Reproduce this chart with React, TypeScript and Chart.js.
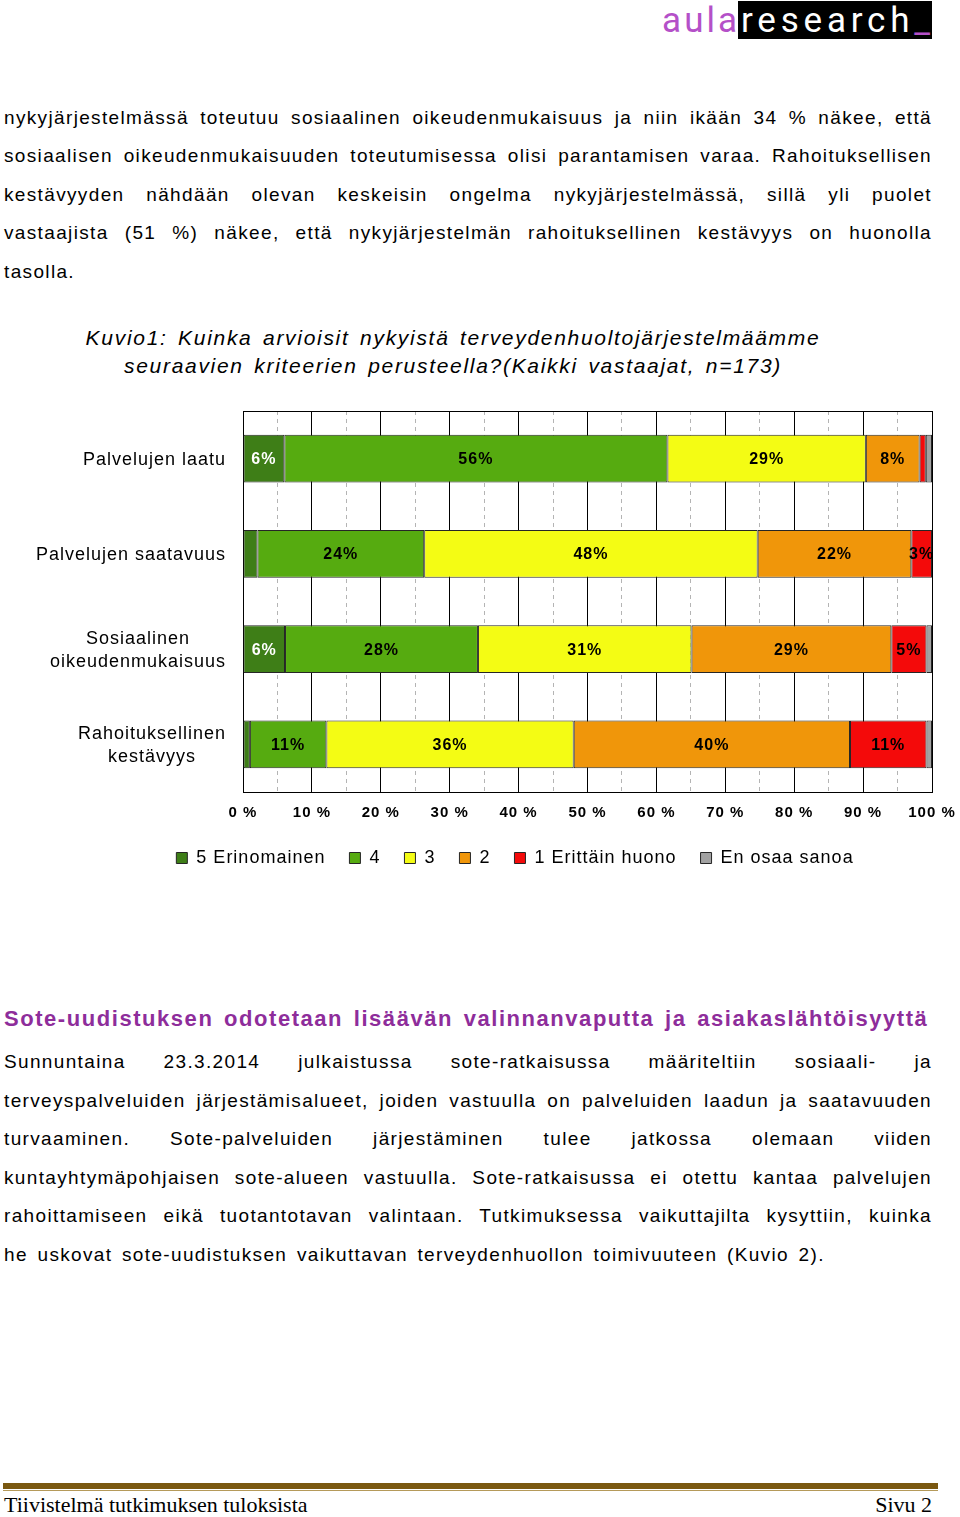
import React, { useEffect, useRef } from 'react';
import { Chart, registerables } from 'chart.js';

Chart.register(...registerables);

const FONT = '"Liberation Sans", Arial, Helvetica, sans-serif';

// ---- chart data ----
const categories: string[][] = [
  ['Palvelujen laatu'],
  ['Palvelujen saatavuus'],
  ['Sosiaalinen', 'oikeudenmukaisuus'],
  ['Rahoituksellinen', 'kestävyys'],
];
const seriesNames = ['5 Erinomainen', '4', '3', '2', '1 Erittäin huono', 'En osaa sanoa'];
const erinomainen = [6.0, 2.1, 6.1, 1.0];
const hyva = [55.6, 24.2, 28.0, 11.1];
const keskinkertainen = [28.8, 48.4, 31.0, 35.9];
const heikko = [7.8, 22.3, 29.0, 40.1];
const erittainHuono = [0.9, 3.0, 5.1, 11.1];
const eiOsaa = [0.9, 0, 0.8, 0.8];
const seriesColors = ['#3e7e17', '#56ab10', '#f4fc14', '#f0960a', '#f40a0a', '#a2a2a2'];
const minorTicks = [5, 15, 25, 35, 45, 55, 65, 75, 85, 95];
const labelThreshold = 2.5;
const legendCenterX = 515;

// ---- page text ----
const para1 = [
  'nykyjärjestelmässä toteutuu sosiaalinen oikeudenmukaisuus ja niin ikään 34 % näkee, että',
  'sosiaalisen oikeudenmukaisuuden toteutumisessa olisi parantamisen varaa. Rahoituksellisen',
  'kestävyyden nähdään olevan keskeisin ongelma nykyjärjestelmässä, sillä yli puolet',
  'vastaajista (51 %) näkee, että nykyjärjestelmän rahoituksellinen kestävyys on huonolla',
  'tasolla.',
];
const para2 = [
  'Sunnuntaina 23.3.2014 julkaistussa sote-ratkaisussa määriteltiin sosiaali- ja',
  'terveyspalveluiden järjestämisalueet, joiden vastuulla on palveluiden laadun ja saatavuuden',
  'turvaaminen. Sote-palveluiden järjestäminen tulee jatkossa olemaan viiden',
  'kuntayhtymäpohjaisen sote-alueen vastuulla. Sote-ratkaisussa ei otettu kantaa palvelujen',
  'rahoittamiseen eikä tuotantotavan valintaan. Tutkimuksessa vaikuttajilta kysyttiin, kuinka',
  'he uskovat sote-uudistuksen vaikuttavan terveydenhuollon toimivuuteen (Kuvio 2).',
];
const titleLines = [
  'Kuvio1: Kuinka arvioisit nykyistä terveydenhuoltojärjestelmäämme',
  'seuraavien kriteerien perusteella?(Kaikki vastaajat, n=173)',
];

const spacingPlugin = {
  id: 'spacing',
  beforeLayout(chart: any) { (chart.ctx as any).letterSpacing = '1px'; },
  beforeDraw(chart: any) { (chart.ctx as any).letterSpacing = '1px'; },
};

const framePlugin = {
  id: 'frame',
  beforeDatasetsDraw(chart: any) {
    const { ctx, chartArea: a } = chart;
    ctx.save();
    ctx.strokeStyle = '#000';
    ctx.lineWidth = 1;
    ctx.beginPath();
    ctx.moveTo(a.left, Math.round(a.top) + 0.5);
    ctx.lineTo(a.right, Math.round(a.top) + 0.5);
    ctx.stroke();
    ctx.restore();
  },
};

const valueLabelPlugin = {
  id: 'valueLabels',
  afterDatasetsDraw(chart: any) {
    const { ctx } = chart;
    ctx.save();
    (ctx as any).letterSpacing = '1px';
    ctx.font = `bold 16px ${FONT}`;
    ctx.textAlign = 'center';
    ctx.textBaseline = 'middle';
    chart.data.datasets.forEach((ds: any, di: number) => {
      const meta = chart.getDatasetMeta(di);
      meta.data.forEach((el: any, i: number) => {
        const v = ds.data[i];
        if (v < labelThreshold) return;
        const { x, base, y } = el.getProps(['x', 'base', 'y'], true);
        ctx.fillStyle = di === 0 ? '#ffffff' : '#000000';
        ctx.fillText(Math.round(v) + '%', (x + base) / 2, y + 1);
      });
    });
    ctx.restore();
  },
};

const yLabelPlugin = {
  id: 'yLabels',
  afterDraw(chart: any) {
    const { ctx } = chart;
    const yScale = chart.scales.y;
    ctx.save();
    (ctx as any).letterSpacing = '1px';
    ctx.font = `18px ${FONT}`;
    ctx.fillStyle = '#000';
    ctx.textAlign = 'center';
    ctx.textBaseline = 'middle';
    const rightEdge = yScale.right - 17;
    const lh = 23;
    categories.forEach((lines, i) => {
      const cy = yScale.getPixelForValue(i);
      const w = Math.max(...lines.map((l) => ctx.measureText(l).width));
      const cx = rightEdge - w / 2;
      lines.forEach((l, j) => {
        ctx.fillText(l, cx, cy + 1 + (j - (lines.length - 1) / 2) * lh);
      });
    });
    ctx.restore();
  },
};

const legendShiftPlugin = {
  id: 'legendShift',
  afterLayout(chart: any) {
    const lg = chart.legend;
    if (!lg) return;
    const w = lg.right - lg.left;
    lg.left = legendCenterX - w / 2;
    lg.right = lg.left + w;
  },
};

function BarChart() {
  const ref = useRef<HTMLCanvasElement>(null);
  useEffect(() => {
    const canvas = ref.current!;
    const series = [erinomainen, hyva, keskinkertainen, heikko, erittainHuono, eiOsaa];
    Chart.defaults.font.family = FONT;
    const chart = new Chart(canvas, {
      type: 'bar',
      data: {
        labels: categories as any,
        datasets: series.map((d, i) => ({
          label: seriesNames[i],
          data: d,
          backgroundColor: seriesColors[i],
          borderColor: '#262626',
          borderWidth: 1,
          borderSkipped: false,
          barPercentage: 0.5,
          categoryPercentage: 1,
        })),
      },
      options: {
        indexAxis: 'y',
        responsive: false,
        animation: false,
        layout: { padding: { top: 11, right: 28, bottom: 3, left: 0 } },
        scales: {
          x: {
            stacked: true,
            min: 0,
            max: 100,
            ticks: {
              stepSize: 10,
              callback: (v: any) => v + ' %',
              font: { size: 15, weight: 'bold' },
              color: '#000',
              padding: 12,
            },
            grid: { color: '#000', drawTicks: false, lineWidth: 1 },
            border: { display: true, color: '#000' },
            afterFit: (s: any) => {
              s.height = 33;
              s.paddingLeft = 0;
              s.paddingRight = 0;
            },
          },
          x2: {
            type: 'linear',
            position: 'top',
            min: 0,
            max: 100,
            afterBuildTicks: (s: any) => { s.ticks = minorTicks.map((v) => ({ value: v })); },
            ticks: { display: false },
            grid: { color: '#b4b4b4', drawTicks: false, lineWidth: 1 },
            border: { display: false, dash: [4, 4] },
            afterFit: (s: any) => {
              s.height = 0;
              s.paddingLeft = 0;
              s.paddingRight = 0;
            },
          },
          y: {
            stacked: true,
            ticks: { display: false },
            grid: { display: false },
            border: { display: true, color: '#000' },
            afterFit: (s: any) => { s.width = 243; },
          },
        } as any,
        plugins: {
          legend: {
            position: 'bottom',
            labels: {
              boxWidth: 11,
              boxHeight: 11,
              padding: 24,
              color: '#000',
              font: { size: 18 },
            },
          },
          tooltip: { enabled: false },
        },
      },
      plugins: [spacingPlugin, framePlugin, valueLabelPlugin, yLabelPlugin, legendShiftPlugin],
    });
    return () => chart.destroy();
  }, []);
  return (
    <canvas
      ref={ref}
      width={960}
      height={480}
      style={{ position: 'absolute', left: 0, top: 400, width: 960, height: 480 }}
    />
  );
}

const bodyLine = (text: string, top: number, last: boolean, key: string) => (
  <div
    key={key}
    style={{
      position: 'absolute',
      left: 4,
      top,
      width: 928,
      fontSize: 19,
      lineHeight: '38.5px',
      letterSpacing: '1.35px',
      wordSpacing: last ? '3px' : '0px',
      textAlign: 'justify',
      textAlignLast: last ? 'left' : 'justify',
    } as any}
  >
    {text}
  </div>
);

export default function App() {
  return (
    <div
      style={{
        position: 'absolute',
        left: 0,
        top: 0,
        width: 960,
        height: 1517,
        overflow: 'hidden',
        background: '#fff',
        color: '#000',
        fontFamily: FONT,
      }}
    >
      {/* logo */}
      <div style={{ position: 'absolute', left: 738, top: 1, width: 194, height: 38, background: '#000' }} />
      <div
        style={{
          position: 'absolute',
          right: 960 - 740,
          top: 0,
          fontFamily: 'Roboto, sans-serif',
          fontSize: 35,
          lineHeight: '41px',
          letterSpacing: '3px',
          color: '#b450c8',
        }}
      >
        aula
      </div>
      <div
        style={{
          position: 'absolute',
          left: 741,
          top: 0,
          fontFamily: 'Roboto, sans-serif',
          fontSize: 35,
          lineHeight: '41px',
          letterSpacing: '4.8px',
          color: '#fff',
        }}
      >
        research<span style={{ color: '#b450c8' }}>_</span>
      </div>

      {para1.map((t, i) => bodyLine(t, 98.5 + i * 38.5, i === para1.length - 1, 'p1' + i))}

      {titleLines.map((t, i) => (
        <div
          key={'t' + i}
          style={{
            position: 'absolute',
            left: 0,
            top: 324 + i * 28,
            width: 906,
            textAlign: 'center',
            fontStyle: 'italic',
            fontSize: 21,
            lineHeight: '28px',
            letterSpacing: '1.7px',
            wordSpacing: '3px',
            whiteSpace: 'nowrap',
          }}
        >
          {t}
        </div>
      ))}

      <BarChart />

      <div
        style={{
          position: 'absolute',
          left: 4,
          top: 1004,
          fontSize: 22,
          fontWeight: 'bold',
          lineHeight: '30px',
          letterSpacing: '1.55px',
          wordSpacing: '3px',
          color: '#8e2d9b',
          whiteSpace: 'nowrap',
        }}
      >
        Sote-uudistuksen odotetaan lisäävän valinnanvaputta ja asiakaslähtöisyyttä
      </div>

      {para2.map((t, i) => bodyLine(t, 1043 + i * 38.6, i === para2.length - 1, 'p2' + i))}

      {/* footer */}
      <div style={{ position: 'absolute', left: 3, top: 1483, width: 935, height: 6, background: '#7a5810' }} />
      <div style={{ position: 'absolute', left: 3, top: 1490, width: 935, height: 1, background: '#b59a5a' }} />
      <div
        style={{
          position: 'absolute',
          left: 4,
          top: 1492,
          fontFamily: '"Liberation Serif", "DejaVu Serif", serif',
          fontSize: 22,
          lineHeight: '26px',
          whiteSpace: 'nowrap',
        }}
      >
        Tiivistelmä tutkimuksen tuloksista
      </div>
      <div
        style={{
          position: 'absolute',
          right: 960 - 932,
          top: 1492,
          fontFamily: '"Liberation Serif", "DejaVu Serif", serif',
          fontSize: 22,
          lineHeight: '26px',
          whiteSpace: 'nowrap',
        }}
      >
        Sivu 2
      </div>
    </div>
  );
}
